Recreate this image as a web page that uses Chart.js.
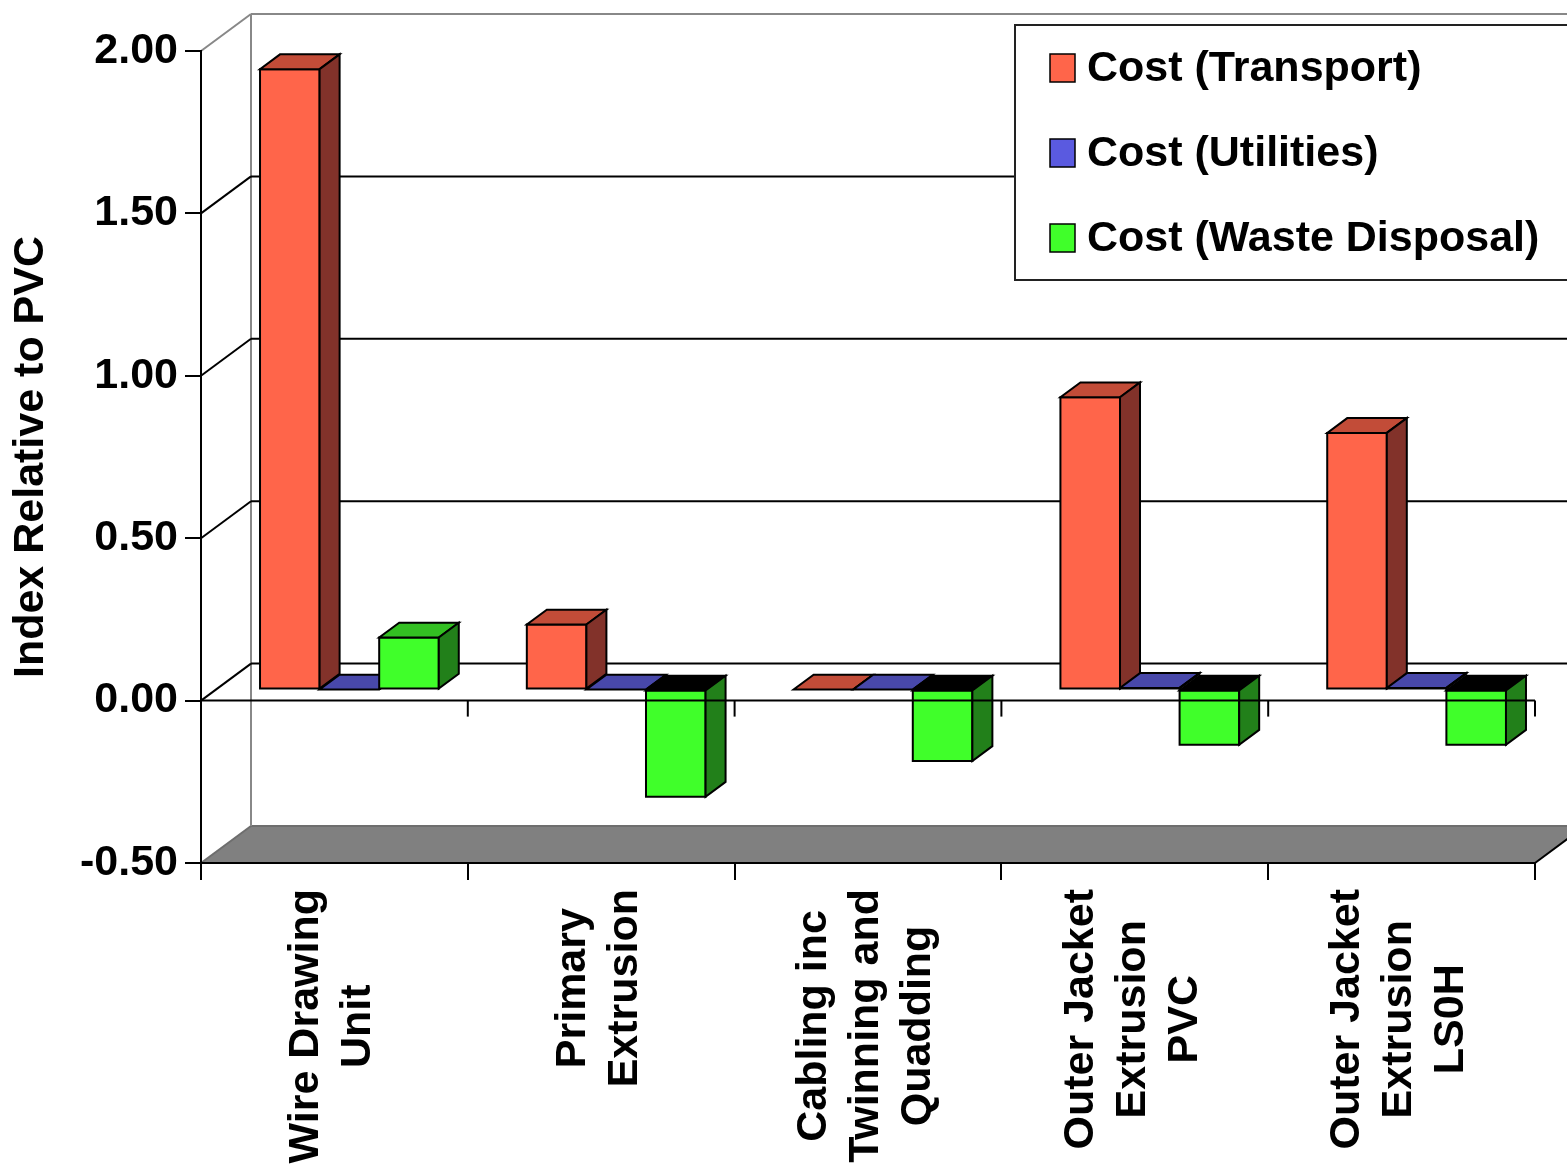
<!DOCTYPE html>
<html>
<head>
<meta charset="utf-8">
<script src="https://cdn.jsdelivr.net/npm/chart.js@4.4.0/dist/chart.umd.min.js"></script>
<style>
  html, body { margin: 0; padding: 0; background: #fff; }
  #wrap { width: 1567px; height: 1165px; position: relative; }
</style>
</head>
<body>
<div id="wrap"><canvas id="costChart"></canvas></div>
<script>
// --------------------- Data -------------------
const categories = [
    ['Wire Drawing', 'Unit'],
    ['Primary', 'Extrusion'],
    ['Cabling inc', 'Twinning and', 'Quadding'],
    ['Outer Jacket', 'Extrusion', 'PVC'],
    ['Outer Jacket', 'Extrusion', 'LS0H']
];
const seriesNames = ['Cost (Transport)', 'Cost (Utilities)', 'Cost (Waste Disposal)'];
const transportCost = [1.91, 0.20, 0.00, 0.90, 0.79];
const utilitiesCost = [0.00, 0.00, 0.00, 0.005, 0.005];
const wasteCost = [0.16, -0.33, -0.22, -0.17, -0.17];
const yTicks = [-0.5, 0, 0.5, 1.0, 1.5, 2.0];

// face colours per series: front, top, side
const frontColors = ['#ff654a', '#5a5ae0', '#40ff2a'];
const topColors = ['#c24c38', '#4848aa', '#33bf22'];
const sideColors = ['#82322a', '#2e2e78', '#22801a'];

const FONT = '"Liberation Sans", Arial, sans-serif';
const FONT_SIZE = 43;
// depth of the box the chart sits in, and where the bars sit inside it
const DX = 50, DY = -37;
const BAR_FRONT = 0.3, BAR_BACK = 0.7;

// --------------------- Drawing helpers -------------------
function poly(ctx, pts, fill, stroke, lw) {
    ctx.beginPath();
    ctx.moveTo(pts[0][0], pts[0][1]);
    for (let k = 1; k < pts.length; k++) ctx.lineTo(pts[k][0], pts[k][1]);
    ctx.closePath();
    if (fill) { ctx.fillStyle = fill; ctx.fill(); }
    if (stroke) { ctx.strokeStyle = stroke; ctx.lineWidth = lw || 2; ctx.stroke(); }
}

function line(ctx, x1, y1, x2, y2, color, lw) {
    ctx.beginPath();
    ctx.moveTo(x1, y1);
    ctx.lineTo(x2, y2);
    ctx.strokeStyle = color;
    ctx.lineWidth = lw || 2;
    ctx.stroke();
}

// --------------------- 3D box plugin -------------------
const box3d = {
    id: 'box3d',

    // walls and floor behind everything
    beforeDraw(chart) {
        const { ctx, chartArea: a } = chart;
        const y = chart.scales.y;
        ctx.save();
        ctx.lineJoin = 'miter';

        const yb = a.bottom;
        poly(ctx, [[a.left, yb], [a.right, yb], [a.right + DX, yb + DY], [a.left + DX, yb + DY]], '#808080');
        line(ctx, a.left, yb, a.left + DX, yb + DY, '#6e6e6e');
        line(ctx, a.left + DX, yb + DY, a.right + DX, yb + DY, '#6e6e6e');
        line(ctx, a.right, yb, a.right + DX, yb + DY, '#000');

        // back edge of the left wall
        line(ctx, a.left + DX, a.top + DY, a.left + DX, yb + DY, '#888');

        y.ticks.forEach(t => {
            if (t.value === y.min) return;
            const py = y.getPixelForValue(t.value);
            const col = t.value === y.max ? '#888' : '#000';
            line(ctx, a.left, py, a.left + DX, py + DY, col);
            line(ctx, a.left + DX, py + DY, a.right + DX, py + DY, col);
        });
        ctx.restore();
    },

    // bars as boxes, painted left to right
    beforeDatasetsDraw(chart) {
        const ctx = chart.ctx;
        const fx = DX * BAR_FRONT, fy = DY * BAR_FRONT;
        const bx = DX * (BAR_BACK - BAR_FRONT), by = DY * (BAR_BACK - BAR_FRONT);
        ctx.save();
        ctx.lineJoin = 'miter';
        for (let j = 0; j < chart.data.labels.length; j++) {
            chart.data.datasets.forEach((ds, i) => {
                const bar = chart.getDatasetMeta(i).data[j];
                const p = bar.getProps(['x', 'y', 'base', 'width'], true);
                const v = ds.data[j];
                const xl = p.x - p.width / 2 + fx, xr = p.x + p.width / 2 + fx;
                const top = Math.min(p.y, p.base) + fy;
                const bottom = Math.max(p.y, p.base) + fy;

                if (bottom - top > 0.5) {
                    poly(ctx, [[xl, top], [xr, top], [xr, bottom], [xl, bottom]], frontColors[i], '#000');
                }
                poly(ctx, [[xl, top], [xr, top], [xr + bx, top + by], [xl + bx, top + by]],
                    v < 0 ? '#000' : topColors[i], '#000');
                poly(ctx, [[xr, top], [xr + bx, top + by], [xr + bx, bottom + by], [xr, bottom]],
                    sideColors[i], '#000');
            });
        }
        ctx.restore();
        return false;
    },

    // front zero line, category labels and legend
    afterDraw(chart) {
        const { ctx, chartArea: a } = chart;
        const x = chart.scales.x, y = chart.scales.y;
        const n = chart.data.labels.length;
        const half = (a.right - a.left) / n / 2;
        ctx.save();

        const py0 = y.getPixelForValue(0);
        line(ctx, a.left, py0, a.right, py0, '#000');
        for (let j = 0; j < n; j++) {
            const bxp = x.getPixelForValue(j) + half;
            line(ctx, bxp, py0, bxp, py0 + 16, '#000');
        }

        // rotated, centred multi-line category labels
        ctx.font = 'bold ' + FONT_SIZE + 'px ' + FONT;
        ctx.fillStyle = '#000';
        ctx.textAlign = 'center';
        ctx.textBaseline = 'middle';
        chart.data.labels.forEach((lines, j) => {
            const maxW = Math.max(...lines.map(s => ctx.measureText(s).width));
            ctx.save();
            ctx.translate(x.getPixelForValue(j) - 2, a.bottom + 26 + maxW / 2);
            ctx.rotate(-Math.PI / 2);
            lines.forEach((s, k) => ctx.fillText(s, 0, (k - (lines.length - 1) / 2) * 52));
            ctx.restore();
        });

        // legend box
        ctx.fillStyle = '#fff';
        ctx.fillRect(1015, 25, 600, 255);
        ctx.strokeStyle = '#222';
        ctx.lineWidth = 2;
        ctx.strokeRect(1015, 25, 600, 255);
        ctx.textAlign = 'left';
        chart.data.datasets.forEach((ds, i) => {
            const cy = 68 + i * 85;
            ctx.fillStyle = ds.backgroundColor;
            ctx.fillRect(1050, cy - 14, 25, 28);
            ctx.strokeStyle = '#000';
            ctx.lineWidth = 1.5;
            ctx.strokeRect(1050, cy - 14, 25, 28);
            ctx.fillStyle = '#000';
            ctx.fillText(ds.label, 1087, cy + 1);
        });
        ctx.restore();
    }
};

// --------------------- Chart -------------------
const seriesValues = [transportCost, utilitiesCost, wasteCost];

new Chart(document.getElementById('costChart'), {
    type: 'bar',
    data: {
        labels: categories,
        datasets: seriesNames.map((name, i) => ({
            label: name,
            data: seriesValues[i],
            backgroundColor: frontColors[i]
        }))
    },
    options: {
        responsive: true,
        maintainAspectRatio: false,
        animation: false,
        layout: { padding: { left: 0, right: 32, top: 51, bottom: 0 } },
        datasets: { bar: { barPercentage: 1, categoryPercentage: 0.67 } },
        plugins: {
            legend: { display: false },
            tooltip: { enabled: false }
        },
        scales: {
            x: {
                grid: { drawOnChartArea: false, drawTicks: true, tickLength: 17, color: '#000', lineWidth: 2, offset: true },
                border: { color: '#000', width: 2 },
                ticks: { display: false },
                afterFit: s => { s.height = 302; s.paddingLeft = 0; s.paddingRight = 0; }
            },
            y: {
                min: yTicks[0],
                max: yTicks[yTicks.length - 1],
                ticks: {
                    stepSize: yTicks[1] - yTicks[0],
                    padding: 7,
                    color: '#000',
                    font: { family: FONT, size: FONT_SIZE, weight: 'bold' },
                    callback: v => Number(v).toFixed(2)
                },
                grid: { drawOnChartArea: false, tickLength: 16, color: '#000', lineWidth: 2 },
                border: { color: '#000', width: 2 },
                title: {
                    display: true,
                    text: 'Index Relative to PVC',
                    color: '#000',
                    font: { family: FONT, size: FONT_SIZE, weight: 'bold', lineHeight: 1.2 },
                    padding: { top: 5, bottom: 0 }
                },
                afterFit: s => { s.width = 201; s.paddingTop = 0; s.paddingBottom = 0; }
            }
        }
    },
    plugins: [box3d]
});
</script>
</body>
</html>
